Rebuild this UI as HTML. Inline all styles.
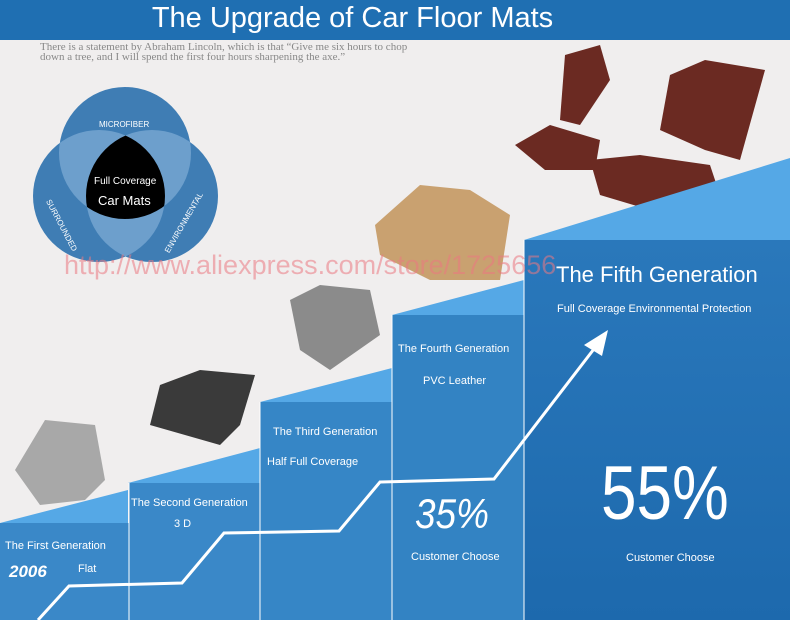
<!DOCTYPE html>
<html><head><meta charset="utf-8"><style>
body{margin:0;width:790px;height:620px;overflow:hidden;background:#f0eeee;font-family:"Liberation Sans",sans-serif;position:relative}
.t{position:absolute;color:#fff;white-space:nowrap}
</style></head><body>
<svg width="790" height="620" style="position:absolute;left:0;top:0">
<defs>
<clipPath id="cT"><circle cx="125" cy="153" r="66"/></clipPath>
<clipPath id="cL"><circle cx="99" cy="196" r="66"/></clipPath>
<clipPath id="cR"><circle cx="152" cy="196" r="66"/></clipPath>
<linearGradient id="g5" x1="0" y1="0" x2="0" y2="1"><stop offset="0" stop-color="#2a78bb"/><stop offset="1" stop-color="#1d69ad"/></linearGradient>
</defs>
<rect x="0" y="0" width="790" height="40" fill="#1f6fb2"/>
<circle cx="125" cy="153" r="66" fill="#3f7db4"/>
<circle cx="99" cy="196" r="66" fill="#3f7db4"/>
<circle cx="152" cy="196" r="66" fill="#3f7db4"/>
<g clip-path="url(#cT)"><circle cx="99" cy="196" r="66" fill="#6d9fcc"/><circle cx="152" cy="196" r="66" fill="#6d9fcc"/></g>
<g clip-path="url(#cL)"><circle cx="152" cy="196" r="66" fill="#6d9fcc"/></g>
<g clip-path="url(#cT)"><g clip-path="url(#cL)"><circle cx="152" cy="196" r="66" fill="#000"/></g></g>
<g fill="#6b2a22"><polygon points="565,55 600,45 610,80 580,125 560,120"/><polygon points="670,75 705,60 765,70 740,160 705,150 660,130"/><polygon points="515,145 550,125 600,140 595,170 545,170"/><polygon points="590,160 640,155 710,165 720,195 650,210 600,195"/></g>
<g fill="#c9a170"><polygon points="375,225 420,185 470,190 510,215 500,280 430,280 380,255"/></g>
<g fill="#8b8b8b"><polygon points="290,300 320,285 370,290 380,335 330,370 300,350"/></g>
<g fill="#3a3a3a"><polygon points="160,385 200,370 255,375 240,425 220,445 150,425"/></g>
<g fill="#a8a8a8"><polygon points="15,470 45,420 95,425 105,480 85,500 40,505"/></g>
<polygon points="0,523 128,490 128,523" fill="#55a8e6"/>
<polygon points="128,483 260,448 260,483" fill="#55a8e6"/>
<polygon points="260,402 392,368 392,402" fill="#55a8e6"/>
<polygon points="392,315 524,280 524,315" fill="#55a8e6"/>
<polygon points="524,240 790,158 790,240" fill="#55a8e6"/>
<rect x="0" y="523" width="129" height="97" fill="#3a88c8"/>
<rect x="129" y="483" width="131" height="137" fill="#3a88c8"/>
<rect x="260" y="402" width="132" height="218" fill="#3686c6"/>
<rect x="392" y="315" width="132" height="305" fill="#3383c3"/>
<rect x="524" y="240" width="266" height="380" fill="url(#g5)"/>
<g stroke="#fff" stroke-width="1"><line x1="129" y1="483" x2="129" y2="620"/><line x1="260" y1="402" x2="260" y2="620"/><line x1="392" y1="315" x2="392" y2="620"/><line x1="524" y1="240" x2="524" y2="620"/></g>
<polyline points="38,620 69,586 182,583 224,533 339,531 380,482 494,479 597,345" fill="none" stroke="#fff" stroke-width="3"/>
<polygon points="608,330 584,345 602,356" fill="#fff"/>
</svg>
<div class="t" style="left:0;width:705px;text-align:center;top:2px;font-size:29px">The Upgrade of Car Floor Mats</div>
<div class="t" style="left:40px;top:42px;font-size:11px;line-height:10px;color:#888;font-family:'Liberation Serif',serif">There is a statement by Abraham Lincoln, which is that “Give me six hours to chop<br>down a tree, and I will spend the first four hours sharpening the axe.”</div>
<div class="t" style="left:99px;top:120px;font-size:8px">MICROFIBER</div>
<div class="t" style="left:94px;top:176px;font-size:10px">Full Coverage</div>
<div class="t" style="left:98px;top:193px;font-size:13px">Car Mats</div>
<div class="t" style="font-size:8px;transform:rotate(62deg);transform-origin:left top;left:52px;top:198px">SURROUNDED</div>
<div class="t" style="left:163px;top:250px;font-size:8px;transform:rotate(-60deg);transform-origin:left top">ENVIRONMENTAL</div>
<div class="t" style="left:64px;top:250px;font-size:27px;color:rgba(235,120,130,0.55)">http://www.aliexpress.com/store/1725656</div>
<div class="t" style="left:556px;top:262px;font-size:22px">The Fifth Generation</div>
<div class="t" style="left:557px;top:303px;font-size:11px">Full Coverage Environmental Protection</div>
<div class="t" style="left:398px;top:343px;font-size:11px">The Fourth Generation</div>
<div class="t" style="left:423px;top:375px;font-size:11px">PVC Leather</div>
<div class="t" style="left:273px;top:426px;font-size:11px">The Third Generation</div>
<div class="t" style="left:267px;top:456px;font-size:11px">Half Full Coverage</div>
<div class="t" style="left:131px;top:497px;font-size:11px">The Second Generation</div>
<div class="t" style="left:174px;top:518px;font-size:11px">3 D</div>
<div class="t" style="left:5px;top:540px;font-size:11px">The First Generation</div>
<div class="t" style="left:9px;top:562px;font-size:17px;font-style:italic;font-weight:bold">2006</div>
<div class="t" style="left:78px;top:563px;font-size:11px">Flat</div>
<div class="t" style="left:415px;top:490px;font-size:42px;font-style:italic;transform:scaleX(0.88);transform-origin:left top">35%</div>
<div class="t" style="left:411px;top:551px;font-size:11px">Customer Choose</div>
<div class="t" style="left:601px;top:450px;font-size:76px;transform:scaleX(0.84);transform-origin:left top">55%</div>
<div class="t" style="left:626px;top:552px;font-size:11px">Customer Choose</div>
</body></html>
